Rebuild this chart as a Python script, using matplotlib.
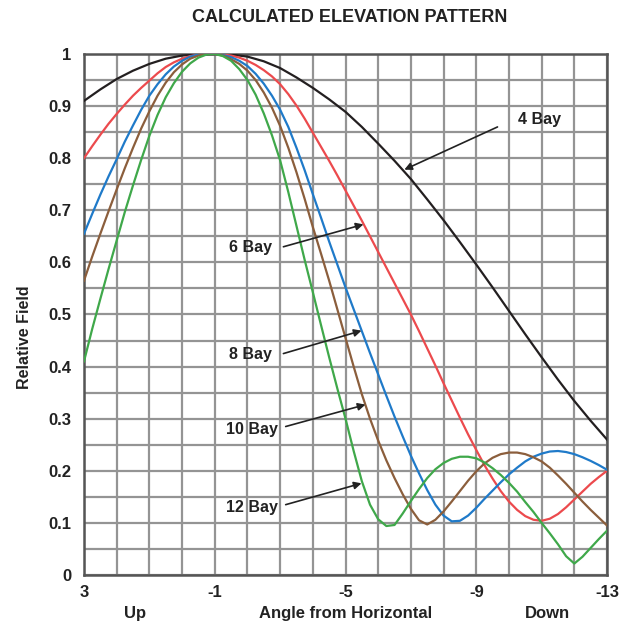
import numpy as np
import matplotlib.pyplot as plt
from matplotlib.ticker import MultipleLocator, FixedLocator

plt.rcParams['font.family'] = ['Liberation Sans', 'DejaVu Sans']

# angle from horizontal, degrees (positive = up)
angles_coarse = np.arange(3.0, -13.01, -0.5)
angles = np.arange(3.0, -13.01, -0.25)

bay4 = [0.910, 0.932, 0.952, 0.968, 0.981, 0.991, 0.997, 0.999, 1.000, 0.999,
        0.995, 0.986, 0.973, 0.955, 0.935, 0.913, 0.889, 0.860, 0.828, 0.795,
        0.760, 0.721, 0.681, 0.639, 0.596, 0.552, 0.507, 0.462, 0.418, 0.375,
        0.334, 0.296, 0.260]
bay6 = [0.800, 0.823, 0.845, 0.866, 0.885, 0.903, 0.920, 0.935, 0.949, 0.963,
        0.975, 0.984, 0.991, 0.996, 0.999, 1.000, 1.000, 0.999, 0.997, 0.993,
        0.987, 0.979, 0.969, 0.957, 0.942, 0.923, 0.901, 0.876, 0.849, 0.822,
        0.795, 0.767, 0.738, 0.709, 0.680, 0.650, 0.620, 0.590, 0.560, 0.530,
        0.500, 0.468, 0.435, 0.402, 0.368, 0.335, 0.302, 0.270, 0.240, 0.211,
        0.185, 0.161, 0.141, 0.125, 0.113, 0.106, 0.104, 0.108, 0.117, 0.130,
        0.145, 0.160, 0.175, 0.188, 0.200]
bay8 = [0.655, 0.693, 0.730, 0.765, 0.798, 0.832, 0.863, 0.893, 0.920, 0.942,
        0.961, 0.976, 0.987, 0.995, 0.999, 1.000, 1.000, 0.998, 0.994, 0.987,
        0.977, 0.962, 0.943, 0.920, 0.893, 0.860, 0.820, 0.777, 0.731, 0.686,
        0.640, 0.596, 0.552, 0.510, 0.468, 0.426, 0.385, 0.344, 0.304, 0.266,
        0.229, 0.195, 0.163, 0.135, 0.114, 0.103, 0.104, 0.114, 0.129, 0.146,
        0.162, 0.178, 0.193, 0.206, 0.218, 0.227, 0.233, 0.237, 0.238, 0.236,
        0.232, 0.226, 0.219, 0.211, 0.202]
bay10 = [0.565, 0.611, 0.655, 0.698, 0.740, 0.781, 0.820, 0.857, 0.890, 0.920,
         0.945, 0.965, 0.980, 0.991, 0.997, 1.000, 1.000, 0.997, 0.990, 0.981,
         0.968, 0.950, 0.926, 0.897, 0.862, 0.820, 0.773, 0.722, 0.668, 0.617,
         0.565, 0.510, 0.455, 0.400, 0.347, 0.300, 0.258, 0.220, 0.186, 0.155,
         0.127, 0.105, 0.097, 0.106, 0.122, 0.141, 0.161, 0.181, 0.199, 0.214,
         0.225, 0.232, 0.235, 0.235, 0.232, 0.226, 0.218, 0.206, 0.191, 0.175,
         0.158, 0.141, 0.125, 0.110, 0.095]
bay12 = [0.410, 0.472, 0.530, 0.587, 0.642, 0.697, 0.748, 0.797, 0.843, 0.883,
         0.917, 0.944, 0.966, 0.982, 0.993, 0.999, 1.000, 0.996, 0.987, 0.971,
         0.950, 0.922, 0.886, 0.844, 0.796, 0.735, 0.670, 0.605, 0.543, 0.480,
         0.418, 0.358, 0.300, 0.238, 0.180, 0.135, 0.107, 0.094, 0.096, 0.118,
         0.142, 0.165, 0.186, 0.203, 0.215, 0.223, 0.227, 0.227, 0.224, 0.216,
         0.205, 0.192, 0.177, 0.160, 0.140, 0.121, 0.100, 0.080, 0.059, 0.036,
         0.022, 0.035, 0.052, 0.069, 0.085]

series = [
    ("4 Bay", angles_coarse, bay4, "#231f20"),
    ("6 Bay", angles, bay6, "#ec4a4d"),
    ("8 Bay", angles, bay8, "#1f7ac9"),
    ("10 Bay", angles, bay10, "#8b5e3c"),
    ("12 Bay", angles, bay12, "#3fa84a"),
]

# label text position, arrow tail, arrow tip (data coords)
labels = [
    ("4 Bay", (-10.95, 0.875), (-9.65, 0.860), (-6.80, 0.778)),
    ("6 Bay", (-2.10, 0.629), (-3.10, 0.630), (-5.55, 0.673)),
    ("8 Bay", (-2.10, 0.423), (-3.10, 0.425), (-5.49, 0.469)),
    ("10 Bay", (-2.15, 0.279), (-3.17, 0.285), (-5.61, 0.327)),
    ("12 Bay", (-2.15, 0.129), (-3.17, 0.135), (-5.49, 0.176)),
]

fig = plt.figure(figsize=(6.42, 6.29), dpi=100)
ax = fig.add_axes([84 / 642, 1 - 575 / 629, 523 / 642, 521 / 629])

for name, xs, vals, col in series:
    ax.plot(xs, vals, color=col, lw=1.6, zorder=3, solid_joinstyle="round")

ax.set_xlim(3, -13)
ax.set_ylim(0, 1)

ax.xaxis.set_major_locator(FixedLocator([3, -1, -5, -9, -13]))
ax.xaxis.set_minor_locator(MultipleLocator(1))
ax.yaxis.set_major_locator(MultipleLocator(0.1))
ax.yaxis.set_minor_locator(MultipleLocator(0.05))
ax.set_yticklabels([f"{v:g}" for v in np.round(ax.get_yticks(), 1)])
ax.set_xticklabels(["3", "-1", "-5", "-9", "-13"])

ax.grid(True, which="both", color="#949494", lw=1.6, zorder=1)
ax.set_axisbelow(True)
ax.tick_params(which="both", length=0)
ax.tick_params(axis="x", pad=7)
ax.tick_params(axis="y", pad=9)
for lab in ax.get_xticklabels() + ax.get_yticklabels():
    lab.set_fontsize(12)
    lab.set_fontweight("bold")
    lab.set_color("#222222")
for sp in ax.spines.values():
    sp.set_color("#555555")
    sp.set_linewidth(1.8)

for name, txt, tail, tip in labels:
    ax.text(txt[0], txt[1], name, ha="center", va="center", fontsize=11.5,
            fontweight="bold", color="#222222", zorder=5)
    ax.annotate("", xy=tip, xytext=tail,
                arrowprops=dict(arrowstyle="-|>", color="#222222", lw=1.2,
                                mutation_scale=11, shrinkA=0, shrinkB=0),
                zorder=5)

tr = ax.get_xaxis_transform()
ax.text(1.45, -0.073, "Up", transform=tr, ha="center", va="center",
        fontsize=12, fontweight="bold", color="#222222")
ax.text(-5.0, -0.073, "Angle from Horizontal", transform=tr, ha="center",
        va="center", fontsize=12, fontweight="bold", color="#222222")
ax.text(-11.17, -0.073, "Down", transform=tr, ha="center", va="center",
        fontsize=12, fontweight="bold", color="#222222")

ax.text(-0.113, 0.456, "Relative Field", transform=ax.transAxes, rotation=90,
        ha="center", va="center", fontsize=11.5, fontweight="bold",
        color="#222222")

fig.text(350 / 642, 1 - 17 / 629, "CALCULATED ELEVATION PATTERN", ha="center",
         va="center", fontsize=13, fontweight="bold", color="#222222")

fig.savefig("out.png", dpi=100)
